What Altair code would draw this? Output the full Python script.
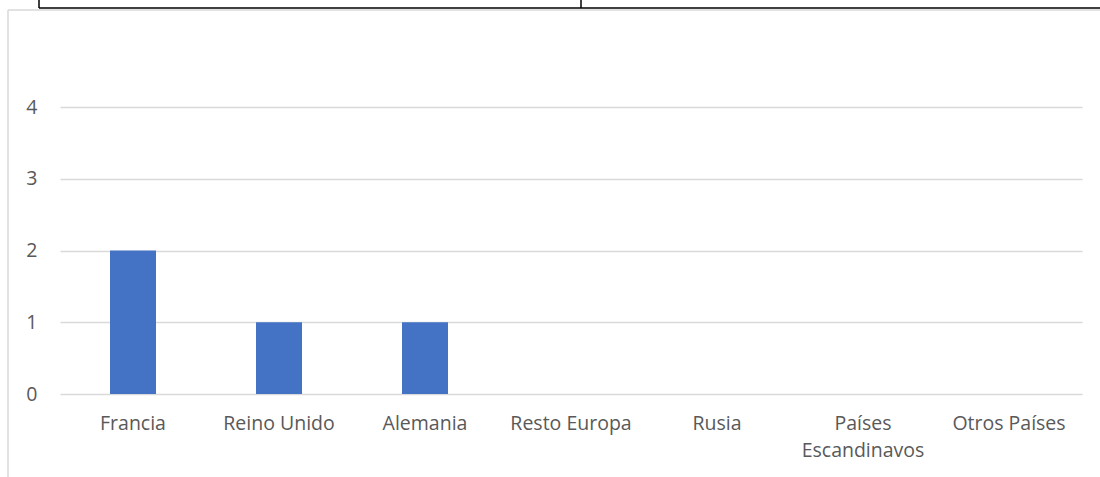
import altair as alt
import pandas as pd

categories = ["Francia", "Reino Unido", "Alemania", "Resto Europa", "Rusia",
              "Países|Escandinavos", "Otros Países"]
values = [2, 1, 1, 0, 0, 0, 0]
y_ticks = [0, 1, 2, 3, 4]

df = pd.DataFrame({"pais": categories, "valor": values})

FONT = "Open Sans"
TXT = "#595959"

bars = alt.Chart(df).mark_bar(color="#4472C4").encode(
    x=alt.X("pais:N", sort=categories,
            scale=alt.Scale(paddingInner=0.685, paddingOuter=0.3425),
            axis=alt.Axis(title=None, domain=False, ticks=False, grid=False,
                          labelAngle=0, labelFont=FONT, labelFontSize=19.5,
                          labelColor=TXT, labelPadding=20, labelLineHeight=27,
                          labelExpr="split(datum.label, '|')")),
    y=alt.Y("valor:Q", scale=alt.Scale(domain=[0, 4], nice=False),
            axis=alt.Axis(title=None, values=y_ticks, domain=False, ticks=False,
                          grid=True, gridColor="#d9d9d9", gridWidth=1.5,
                          labelFont=FONT, labelFontSize=19.5, labelColor=TXT,
                          labelPadding=23)),
)

deco_df = pd.DataFrame({"k": [0]})
# chart frame (light gray) and document table border (black) above the chart
frame_left = alt.Chart(deco_df).mark_rule(color="#d9d9d9", strokeWidth=1.5).encode(
    x=alt.value(-52), y=alt.value(-97), y2=alt.value(400))
frame_top = alt.Chart(deco_df).mark_rule(color="#d9d9d9", strokeWidth=1.5).encode(
    x=alt.value(-52), x2=alt.value(1100), y=alt.value(-97))
tbl_h = alt.Chart(deco_df).mark_rule(color="#000000", strokeWidth=1.5).encode(
    x=alt.value(-21), x2=alt.value(1100), y=alt.value(-99))
tbl_v1 = alt.Chart(deco_df).mark_rule(color="#000000", strokeWidth=1.5).encode(
    x=alt.value(-21), y=alt.value(-120), y2=alt.value(-99))
tbl_v2 = alt.Chart(deco_df).mark_rule(color="#000000", strokeWidth=1.5).encode(
    x=alt.value(521), y=alt.value(-120), y2=alt.value(-99))

chart = alt.layer(bars, frame_left, frame_top, tbl_h, tbl_v1, tbl_v2).properties(
    width=1022, height=287,
    autosize=alt.AutoSizeParams(type="none"),
    padding={"left": 60, "top": 107, "right": 18, "bottom": 83},
).configure(background="white").configure_view(strokeWidth=0, stroke=None)

chart.save("out.html", embed_options={"renderer": "svg", "actions": False})
